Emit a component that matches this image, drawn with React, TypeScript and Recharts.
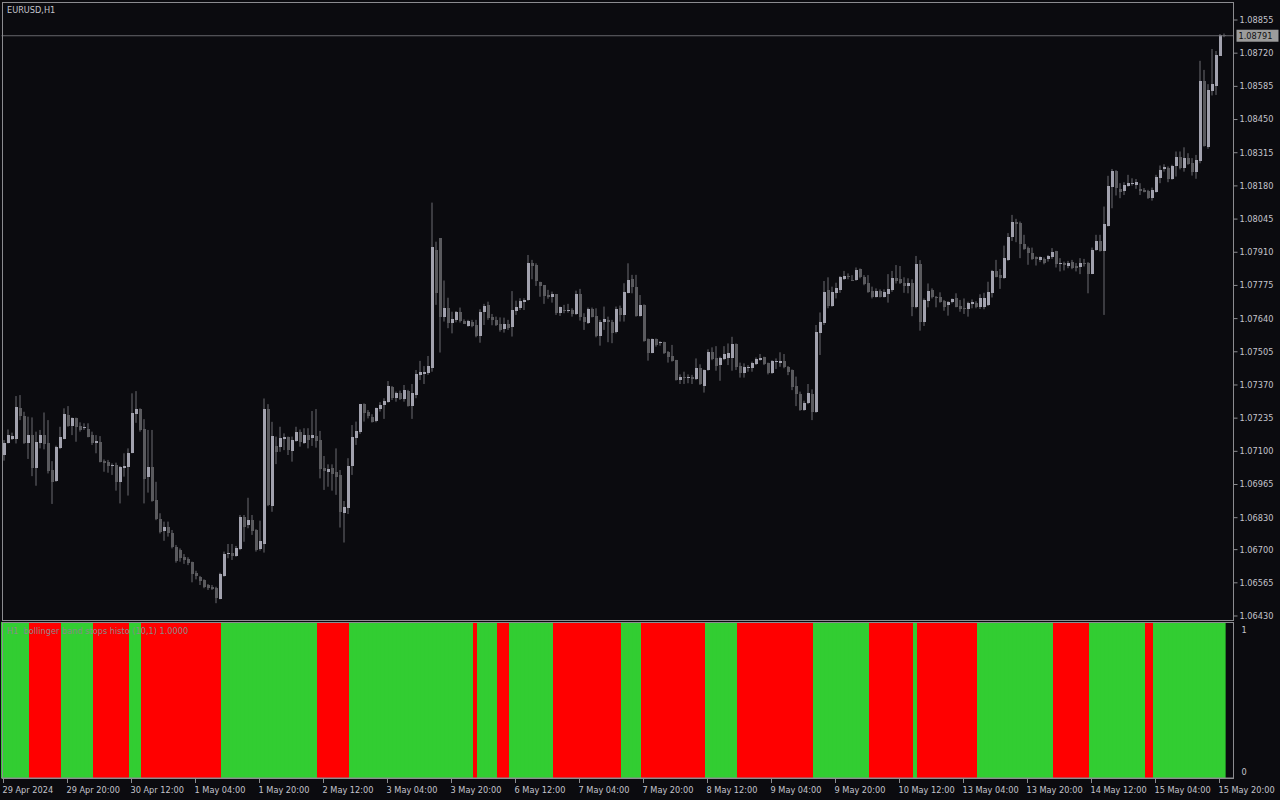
import React from "react";
import { BarChart, Bar, XAxis, YAxis, ReferenceLine, Cell } from "recharts";

// EURUSD H1 candles, [open, high, low, close]
const ohlc: [number, number, number, number][] = [
  [1.07085, 1.07146, 1.07062, 1.07135], [1.07135, 1.07189, 1.07132, 1.07166], [1.0715, 1.07176, 1.07146, 1.07162],
  [1.0715, 1.07325, 1.07132, 1.07279], [1.07276, 1.07329, 1.07227, 1.07244], [1.07244, 1.07261, 1.0713, 1.07135],
  [1.07132, 1.07241, 1.07069, 1.07166], [1.07166, 1.07238, 1.06999, 1.07033], [1.07033, 1.0718, 1.0696, 1.07138],
  [1.07135, 1.07187, 1.07112, 1.07166], [1.07166, 1.07258, 1.07108, 1.0713], [1.07132, 1.07227, 1.0701, 1.07021],
  [1.07024, 1.0706, 1.06886, 1.06976], [1.06979, 1.07123, 1.06976, 1.07119], [1.07115, 1.072, 1.07109, 1.07157],
  [1.07151, 1.07275, 1.07149, 1.07252], [1.07248, 1.07284, 1.072, 1.07204], [1.07204, 1.07238, 1.07166, 1.07234],
  [1.07234, 1.07237, 1.07139, 1.072], [1.07203, 1.07218, 1.0718, 1.07187], [1.07193, 1.07214, 1.07187, 1.07197],
  [1.07189, 1.07214, 1.07157, 1.0716], [1.07166, 1.0718, 1.07126, 1.07132], [1.07135, 1.07166, 1.07092, 1.07142],
  [1.07138, 1.07162, 1.07055, 1.07058], [1.07062, 1.07067, 1.07017, 1.07054], [1.07058, 1.07065, 1.07013, 1.0704],
  [1.0704, 1.07051, 1.07004, 1.07044], [1.07044, 1.07054, 1.0694, 1.06976], [1.06976, 1.0704, 1.06888, 1.07035],
  [1.07032, 1.07092, 1.06997, 1.0704], [1.07037, 1.07112, 1.0692, 1.07094], [1.07094, 1.07336, 1.07092, 1.07256],
  [1.07253, 1.07345, 1.07216, 1.07271], [1.07271, 1.07275, 1.0718, 1.07187], [1.07189, 1.07231, 1.06888, 1.06989],
  [1.06997, 1.07187, 1.06932, 1.07035], [1.07035, 1.07187, 1.06895, 1.06899], [1.06902, 1.06976, 1.0682, 1.06826],
  [1.06823, 1.06848, 1.06766, 1.06773], [1.06776, 1.06814, 1.06736, 1.06793], [1.06793, 1.06814, 1.06753, 1.06766],
  [1.06766, 1.0678, 1.06705, 1.06712], [1.06712, 1.06719, 1.06647, 1.06654], [1.06698, 1.06705, 1.06651, 1.06667],
  [1.06669, 1.06682, 1.06642, 1.06658], [1.06662, 1.06669, 1.06637, 1.06644], [1.06648, 1.06651, 1.06567, 1.06601],
  [1.06604, 1.06614, 1.06579, 1.06593], [1.0659, 1.06593, 1.06556, 1.06574], [1.06576, 1.06579, 1.06543, 1.06549],
  [1.06556, 1.0656, 1.06536, 1.06543], [1.06549, 1.06556, 1.06536, 1.06538], [1.06543, 1.06549, 1.06482, 1.06502],
  [1.065, 1.06606, 1.06498, 1.06601], [1.06594, 1.06692, 1.0659, 1.06682], [1.06682, 1.06723, 1.06665, 1.06688],
  [1.06685, 1.06723, 1.06658, 1.06674], [1.06674, 1.06715, 1.06671, 1.06705], [1.06704, 1.06841, 1.06698, 1.06834],
  [1.06834, 1.06841, 1.06732, 1.06793], [1.068, 1.06911, 1.06787, 1.0682], [1.0682, 1.06841, 1.0676, 1.06777],
  [1.0678, 1.06783, 1.06692, 1.06698], [1.06701, 1.06818, 1.06696, 1.06735], [1.06723, 1.07315, 1.06688, 1.07272],
  [1.07272, 1.07292, 1.06877, 1.06881], [1.06877, 1.0722, 1.06854, 1.07162], [1.07121, 1.0716, 1.07048, 1.07098],
  [1.07119, 1.072, 1.07098, 1.07153], [1.07151, 1.07173, 1.07105, 1.0716], [1.07157, 1.0716, 1.07085, 1.07105],
  [1.07102, 1.0716, 1.07058, 1.07146], [1.07143, 1.072, 1.07139, 1.07178], [1.07178, 1.07189, 1.07119, 1.07136],
  [1.07135, 1.07194, 1.0713, 1.07167], [1.07167, 1.07194, 1.07112, 1.07146], [1.07156, 1.07264, 1.07122, 1.07167],
  [1.07162, 1.07272, 1.07115, 1.07142], [1.07146, 1.07183, 1.0699, 1.07028], [1.07034, 1.07081, 1.06943, 1.0702],
  [1.07017, 1.07047, 1.06956, 1.07028], [1.07031, 1.07047, 1.0694, 1.07008], [1.07015, 1.07112, 1.06923, 1.06996],
  [1.07004, 1.07024, 1.0679, 1.06855], [1.06851, 1.06898, 1.06729, 1.06874], [1.06871, 1.07072, 1.06845, 1.0704],
  [1.0704, 1.07207, 1.07004, 1.0716], [1.07156, 1.07221, 1.07126, 1.07183], [1.07179, 1.07293, 1.07171, 1.07293],
  [1.07293, 1.07295, 1.07221, 1.07257], [1.0726, 1.07268, 1.07234, 1.07244], [1.07241, 1.07251, 1.07217, 1.07221],
  [1.07224, 1.07278, 1.07218, 1.07276], [1.07274, 1.073, 1.07262, 1.0729], [1.0729, 1.07316, 1.07232, 1.07304],
  [1.07301, 1.07386, 1.07298, 1.07366], [1.07362, 1.07366, 1.07309, 1.07319], [1.07319, 1.07343, 1.07302, 1.07339],
  [1.07339, 1.07347, 1.07309, 1.07312], [1.07312, 1.0737, 1.07302, 1.0735], [1.07346, 1.0735, 1.07282, 1.07286],
  [1.07286, 1.07374, 1.07232, 1.07339], [1.07331, 1.07431, 1.07316, 1.07415], [1.07411, 1.07468, 1.0739, 1.07423],
  [1.07415, 1.07447, 1.07374, 1.07423], [1.0742, 1.07488, 1.07411, 1.07447], [1.07441, 1.08112, 1.07424, 1.07933],
  [1.07919, 1.07953, 1.07696, 1.07746], [1.07968, 1.07968, 1.07502, 1.07648], [1.07648, 1.07795, 1.07628, 1.07685],
  [1.07685, 1.07725, 1.07601, 1.07624], [1.07624, 1.07668, 1.0758, 1.07639], [1.07635, 1.07671, 1.07625, 1.07667],
  [1.07667, 1.07685, 1.07624, 1.07632], [1.07632, 1.07637, 1.07618, 1.07618], [1.07611, 1.07635, 1.07607, 1.0763],
  [1.07628, 1.07635, 1.07605, 1.0761], [1.07614, 1.07635, 1.07564, 1.07571], [1.07571, 1.07678, 1.07542, 1.07668],
  [1.07666, 1.077, 1.07614, 1.07693], [1.07696, 1.07709, 1.07635, 1.07644], [1.07648, 1.07659, 1.07613, 1.07635],
  [1.07635, 1.07648, 1.0761, 1.07614], [1.07618, 1.07645, 1.07587, 1.07594], [1.07598, 1.07644, 1.07583, 1.07618],
  [1.07618, 1.07635, 1.07594, 1.07603], [1.07607, 1.07752, 1.07567, 1.07675], [1.07672, 1.07713, 1.07655, 1.07689],
  [1.07685, 1.07723, 1.07675, 1.07713], [1.07708, 1.07723, 1.07675, 1.07716], [1.07716, 1.07899, 1.07713, 1.07866],
  [1.07866, 1.07879, 1.078, 1.07854], [1.07858, 1.07865, 1.07773, 1.07795], [1.07788, 1.0779, 1.07729, 1.07773],
  [1.07777, 1.07777, 1.077, 1.07732], [1.07736, 1.07757, 1.07721, 1.07729], [1.07729, 1.0775, 1.07705, 1.0774],
  [1.0774, 1.0774, 1.07655, 1.07664], [1.07664, 1.07689, 1.07651, 1.07687], [1.07675, 1.07696, 1.07662, 1.0767],
  [1.0767, 1.077, 1.07664, 1.07675], [1.07675, 1.07682, 1.07648, 1.07659], [1.07659, 1.07754, 1.07655, 1.0774],
  [1.0774, 1.07761, 1.07632, 1.07645], [1.07648, 1.07662, 1.07594, 1.07628], [1.07621, 1.07685, 1.07618, 1.07679],
  [1.07679, 1.07685, 1.07645, 1.07648], [1.07651, 1.07682, 1.07564, 1.07571], [1.07571, 1.07635, 1.0753, 1.07628],
  [1.07628, 1.07689, 1.07594, 1.07639], [1.07635, 1.07648, 1.07544, 1.07628], [1.07628, 1.07635, 1.0754, 1.07583],
  [1.07586, 1.07689, 1.0758, 1.07679], [1.07682, 1.07693, 1.07628, 1.07655], [1.07655, 1.07784, 1.07628, 1.07748],
  [1.07746, 1.07865, 1.07743, 1.07797], [1.07801, 1.07818, 1.07743, 1.07767], [1.0777, 1.07818, 1.07648, 1.07651],
  [1.07651, 1.07736, 1.07648, 1.07696], [1.07696, 1.07698, 1.07546, 1.0755], [1.07556, 1.07559, 1.07469, 1.07502],
  [1.07502, 1.07559, 1.07499, 1.07556], [1.07556, 1.07559, 1.07526, 1.07533], [1.07541, 1.07548, 1.0753, 1.07545],
  [1.07544, 1.07546, 1.07496, 1.07502], [1.07503, 1.07508, 1.07461, 1.07485], [1.07488, 1.07533, 1.07465, 1.07469],
  [1.07472, 1.07472, 1.07388, 1.0739], [1.0739, 1.07413, 1.07374, 1.07401], [1.07401, 1.07424, 1.07374, 1.07398],
  [1.07398, 1.07413, 1.07377, 1.07403], [1.07403, 1.07411, 1.07374, 1.07394], [1.07394, 1.07478, 1.0739, 1.07438],
  [1.07438, 1.07454, 1.0737, 1.07374], [1.07367, 1.07433, 1.07339, 1.07431], [1.07431, 1.07515, 1.07428, 1.07504],
  [1.07504, 1.07523, 1.07471, 1.07474], [1.07478, 1.07528, 1.07428, 1.07447], [1.07451, 1.07485, 1.07387, 1.07478],
  [1.07476, 1.07528, 1.07471, 1.07496], [1.07478, 1.07539, 1.07451, 1.07499], [1.07481, 1.07566, 1.07428, 1.07537],
  [1.07537, 1.07539, 1.07431, 1.07444], [1.07447, 1.07461, 1.074, 1.0742], [1.0742, 1.07458, 1.074, 1.07442],
  [1.07442, 1.07451, 1.07424, 1.07443], [1.0744, 1.07465, 1.07424, 1.07458], [1.07456, 1.07482, 1.07451, 1.07476],
  [1.07471, 1.07496, 1.07469, 1.07478], [1.07482, 1.07485, 1.07451, 1.07455], [1.07458, 1.07461, 1.07413, 1.07417],
  [1.07417, 1.07471, 1.07415, 1.07466], [1.07466, 1.07478, 1.07435, 1.07467], [1.07459, 1.07503, 1.07444, 1.07466],
  [1.07466, 1.07496, 1.07438, 1.07442], [1.07444, 1.07447, 1.0741, 1.07423], [1.07431, 1.07433, 1.07349, 1.07363],
  [1.07366, 1.07404, 1.07284, 1.07333], [1.07333, 1.07343, 1.07265, 1.07268], [1.07268, 1.07306, 1.07265, 1.07295],
  [1.07295, 1.07374, 1.07292, 1.07336], [1.07333, 1.07352, 1.07227, 1.07261], [1.07261, 1.07614, 1.07257, 1.07584],
  [1.07583, 1.07665, 1.07492, 1.07625], [1.07624, 1.07793, 1.07614, 1.07748], [1.07756, 1.07808, 1.07682, 1.07691],
  [1.07691, 1.0777, 1.07688, 1.07747], [1.07745, 1.07786, 1.07722, 1.07763], [1.07756, 1.07813, 1.07745, 1.07808],
  [1.07802, 1.07834, 1.07797, 1.07813], [1.07813, 1.07824, 1.078, 1.07812], [1.07797, 1.07817, 1.07794, 1.07794],
  [1.07797, 1.07848, 1.07794, 1.07838], [1.07842, 1.07844, 1.07804, 1.07808], [1.07808, 1.07817, 1.07776, 1.07781],
  [1.07783, 1.07817, 1.07745, 1.07749], [1.07752, 1.0777, 1.07722, 1.07729], [1.07729, 1.07763, 1.07726, 1.07752],
  [1.07752, 1.07759, 1.07726, 1.07729], [1.07729, 1.07759, 1.07726, 1.07749], [1.0774, 1.07821, 1.07705, 1.0776],
  [1.07756, 1.07834, 1.07749, 1.07805], [1.07805, 1.07858, 1.07783, 1.07794], [1.07801, 1.07854, 1.07781, 1.07786],
  [1.07785, 1.07808, 1.07745, 1.07772], [1.07772, 1.07804, 1.07743, 1.07785], [1.07785, 1.078, 1.0765, 1.07688],
  [1.07686, 1.07895, 1.07682, 1.07862], [1.07862, 1.07878, 1.07591, 1.07627], [1.07627, 1.07722, 1.0761, 1.07716],
  [1.07713, 1.07783, 1.07686, 1.07752], [1.07756, 1.07763, 1.07722, 1.07729], [1.07729, 1.07732, 1.07686, 1.07726],
  [1.07726, 1.07747, 1.07705, 1.07707], [1.07711, 1.07716, 1.07672, 1.07686], [1.07694, 1.07711, 1.07652, 1.07707],
  [1.07707, 1.07722, 1.07702, 1.07718], [1.07722, 1.07743, 1.07686, 1.07688], [1.07691, 1.07716, 1.07668, 1.0768],
  [1.07683, 1.07722, 1.07659, 1.0768], [1.07678, 1.07709, 1.07648, 1.07702], [1.07701, 1.07718, 1.07682, 1.07706],
  [1.07702, 1.07711, 1.07682, 1.07686], [1.07686, 1.07739, 1.07679, 1.07722], [1.07688, 1.07745, 1.07678, 1.07722],
  [1.07695, 1.0779, 1.07691, 1.07748], [1.07743, 1.07838, 1.07726, 1.07832], [1.07834, 1.07879, 1.07808, 1.07811],
  [1.07818, 1.07842, 1.07761, 1.07807], [1.07804, 1.07937, 1.07802, 1.07887], [1.07879, 1.07988, 1.07875, 1.07973],
  [1.07973, 1.08062, 1.07956, 1.08035], [1.08034, 1.08046, 1.07951, 1.08026], [1.08031, 1.08035, 1.07886, 1.07944],
  [1.07944, 1.07981, 1.0792, 1.07924], [1.07929, 1.07933, 1.07859, 1.07906], [1.07909, 1.07929, 1.07879, 1.07883],
  [1.07889, 1.07893, 1.07856, 1.07882], [1.07878, 1.07893, 1.0787, 1.07891], [1.07883, 1.07889, 1.07861, 1.07868],
  [1.07883, 1.07899, 1.07872, 1.07893], [1.07889, 1.07927, 1.07883, 1.07912], [1.07916, 1.07916, 1.07848, 1.07864],
  [1.07864, 1.07886, 1.07832, 1.07867], [1.07867, 1.07872, 1.07836, 1.07859], [1.07856, 1.07875, 1.07845, 1.07868],
  [1.07872, 1.07879, 1.07841, 1.07844], [1.07856, 1.07866, 1.07832, 1.07844], [1.07851, 1.07886, 1.07821, 1.07867],
  [1.07867, 1.07883, 1.07852, 1.07863], [1.07867, 1.0787, 1.07743, 1.07823], [1.07823, 1.07929, 1.07821, 1.0792],
  [1.0792, 1.07981, 1.07916, 1.07956], [1.07956, 1.07981, 1.07913, 1.07917], [1.07917, 1.08096, 1.07655, 1.08026],
  [1.08017, 1.08221, 1.08015, 1.0818], [1.08177, 1.08249, 1.08089, 1.08241], [1.08241, 1.08244, 1.08141, 1.08173],
  [1.08168, 1.08191, 1.0813, 1.08157], [1.08161, 1.08195, 1.08143, 1.08184], [1.0818, 1.08225, 1.08177, 1.08191],
  [1.08191, 1.08211, 1.08181, 1.08192], [1.08184, 1.08208, 1.08168, 1.08195], [1.08168, 1.08191, 1.08143, 1.08161],
  [1.08165, 1.08171, 1.08154, 1.08157], [1.08161, 1.08164, 1.08127, 1.0813], [1.0813, 1.08173, 1.0812, 1.08164],
  [1.08157, 1.08225, 1.08153, 1.08218], [1.08214, 1.08263, 1.08191, 1.08245], [1.08247, 1.08268, 1.08238, 1.08255],
  [1.08252, 1.08259, 1.08195, 1.08207], [1.08207, 1.08266, 1.08205, 1.08261], [1.08263, 1.0832, 1.08218, 1.08297],
  [1.08297, 1.0832, 1.08247, 1.08252], [1.08252, 1.08337, 1.08238, 1.08293], [1.08293, 1.08313, 1.08266, 1.0827],
  [1.08275, 1.08293, 1.08222, 1.08238], [1.08238, 1.08306, 1.08209, 1.08286], [1.08282, 1.08689, 1.08272, 1.08607],
  [1.08607, 1.08652, 1.0834, 1.08343], [1.08339, 1.08594, 1.08331, 1.08569], [1.08568, 1.08737, 1.08548, 1.08594],
  [1.08588, 1.08729, 1.0855, 1.08713], [1.0871, 1.08798, 1.08709, 1.08794], [1.08794, 1.088, 1.08785, 1.08791],
];

// bollinger band stops histo: runs of [trend, bars]
const bandRuns: [string, number][] = [
  ["up", 7], ["down", 8], ["up", 8], ["down", 9], ["up", 3], ["down", 20], ["up", 24], ["down", 8],
  ["up", 31], ["down", 1], ["up", 5], ["down", 3], ["up", 11], ["down", 17], ["up", 5], ["down", 16],
  ["up", 8], ["down", 19], ["up", 14], ["down", 11], ["up", 1], ["down", 15], ["up", 19], ["down", 9],
  ["up", 14], ["down", 2], ["up", 18],
];

const timeTickBars = [0, 16, 32, 48, 64, 80, 96, 112, 128, 144, 160, 176, 192, 208, 224, 240, 256, 272, 288, 304];
const timeLabels = [
  "29 Apr 2024", "29 Apr 20:00", "30 Apr 12:00", "1 May 04:00", "1 May 20:00", "2 May 12:00", "3 May 04:00",
  "3 May 20:00", "6 May 12:00", "7 May 04:00", "7 May 20:00", "8 May 12:00", "9 May 04:00", "9 May 20:00",
  "10 May 12:00", "13 May 04:00", "13 May 20:00", "14 May 12:00", "15 May 04:00", "15 May 20:00",
];

const priceTicks = [
  1.08855, 1.0872, 1.08585, 1.0845, 1.08315, 1.0818, 1.08045, 1.0791, 1.07775, 1.0764,
  1.07505, 1.0737, 1.07235, 1.071, 1.06965, 1.0683, 1.067, 1.06565, 1.0643,
];
const lastPrice = 1.08791;
const emptySlots = 2; // chart shift on the right

const BG = "#0b0b0f";
const FRAME = "#8c8c90";
const TEXT = "#c4c4cc";
const BULL = "#a2a2ae";
const BEAR = "#5a5a5e";
const WICK = "#6c6c72";
const UP_HIST = "#32cd32";
const DOWN_HIST = "#ff0000";
const FONT = "DejaVu Sans";
const FS = 8.2;

const trend = bandRuns.flatMap(([s, n]) => Array(n).fill(s) as string[]);

const rows = [
  ...ohlc.map(([open, high, low, close], i) => ({ i, open, high, low, close, v: 1, t: trend[i] })),
  ...Array.from({ length: emptySlots }, (_, k) => ({ i: ohlc.length + k } as any)),
];

const Candle = (props: any) => {
  const { x, y, width, height, payload } = props;
  if (!payload || payload.high == null || !isFinite(y)) return null;
  const { open, high, low, close } = payload;
  const span = high - low || 1e-9;
  const py = (v: number) => y + ((high - v) / span) * height;
  const cx = x + width / 2;
  const top = py(Math.max(open, close));
  const bot = py(Math.min(open, close));
  return (
    <g>
      <line x1={cx} x2={cx} y1={y} y2={y + height} stroke={WICK} strokeWidth={1} />
      <rect
        x={x}
        y={top}
        width={width}
        height={Math.max(1, bot - top)}
        fill={close >= open ? BULL : BEAR}
        shapeRendering="crispEdges"
      />
    </g>
  );
};

const PriceTag = (props: any) => {
  const vb = props.viewBox;
  if (!vb) return null;
  const x = vb.x + vb.width + 3;
  return (
    <g>
      <rect x={x} y={vb.y - 6} width={42} height={12} fill="#9c9c9c" />
      <text x={x + 2} y={vb.y} dy="0.355em" fill="#111" fontSize={FS} fontFamily={FONT}>
        {lastPrice.toFixed(5)}
      </text>
    </g>
  );
};

const TimeTick = ({ x, y, payload }: any) => {
  const k = timeTickBars.indexOf(payload.value);
  return (
    <text x={x - 1} y={y + 8} fill={TEXT} fontSize={FS} fontFamily={FONT} textAnchor="start">
      {timeLabels[k]}
    </text>
  );
};

const LevelTick = ({ x, y, payload }: any) => (
  <text
    x={x}
    y={y + (payload.value === 1 ? 8 : -6)}
    dy="0.355em"
    fill={TEXT}
    fontSize={FS}
    fontFamily={FONT}
    textAnchor="start"
  >
    {payload.value}
  </text>
);

export default function App() {
  return (
    <div style={{ position: "absolute", left: 0, top: 0, width: 1280, height: 800, background: BG, overflow: "hidden" }}>
      <div style={{ position: "absolute", left: 0, top: 0 }}>
        <BarChart width={1280} height={620} data={rows} margin={{ top: 3, right: 0, bottom: 0, left: 1.5 }}>
          <XAxis dataKey="i" hide />
          <YAxis
            orientation="right"
            width={46.5}
            type="number"
            domain={[1.064137, 1.089242]}
            allowDataOverflow
            ticks={priceTicks}
            interval={0}
            tickFormatter={(v: number) => v.toFixed(5)}
            tick={{ fill: TEXT, fontSize: FS, fontFamily: FONT }}
            tickLine={{ stroke: FRAME }}
            tickSize={4}
            axisLine={false}
          />
          <ReferenceLine y={lastPrice} stroke="#66666c" strokeWidth={1} label={<PriceTag />} />
          <Bar
            dataKey={(d: any) => (d.high == null ? null : [d.low, d.high])}
            barSize={3}
            shape={<Candle />}
            isAnimationActive={false}
          />
        </BarChart>
      </div>

      <div style={{ position: "absolute", left: 0, top: 622 }}>
        <BarChart width={1280} height={178} data={rows} margin={{ top: 0, right: 0, bottom: 0, left: 1.5 }} barCategoryGap={0}>
          <XAxis
            dataKey="i"
            ticks={timeTickBars}
            interval={0}
            height={22}
            tick={<TimeTick />}
            tickLine={{ stroke: FRAME }}
            tickSize={5}
            axisLine={{ stroke: FRAME }}
          />
          <YAxis
            orientation="right"
            width={46.5}
            type="number"
            domain={[0, 1]}
            ticks={[0, 1]}
            interval={0}
            tick={<LevelTick />}
            tickLine={false}
            axisLine={false}
          />
          <Bar dataKey="v" barSize={4} isAnimationActive={false}>
            {rows.map((r: any) => {
              const c = r.t === "down" ? DOWN_HIST : UP_HIST;
              return <Cell key={r.i} fill={c} stroke={c} strokeWidth={1} />;
            })}
          </Bar>
        </BarChart>
      </div>

      {/* panel frames */}
      <div style={{ position: "absolute", left: 2, top: 2, width: 1232, height: 619, border: `1px solid ${FRAME}`, boxSizing: "border-box", pointerEvents: "none" }} />
      <div style={{ position: "absolute", left: 2, top: 622, width: 1232, height: 157, border: `1px solid ${FRAME}`, boxSizing: "border-box", pointerEvents: "none" }} />

      <div style={{ position: "absolute", left: 7, top: 5, color: TEXT, fontFamily: FONT, fontSize: FS }}>EURUSD,H1</div>
      <div style={{ position: "absolute", left: 7, top: 626, color: "#8a8a8a", fontFamily: FONT, fontSize: FS, whiteSpace: "pre" }}>
        {"H1  bollinger band stops histo (10,1) 1.0000"}
      </div>
    </div>
  );
}
